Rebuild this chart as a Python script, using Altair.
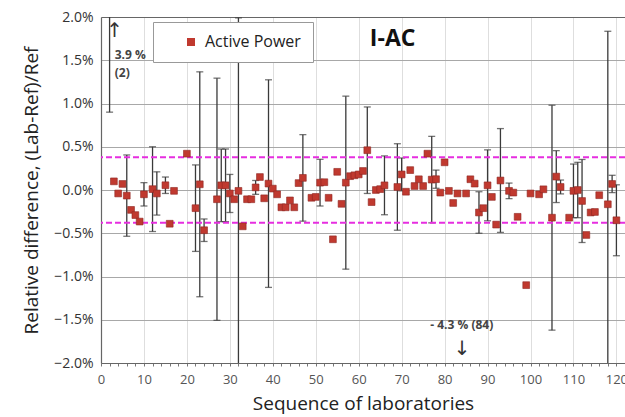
import altair as alt
import pandas as pd

# ---- data ----
labs = [2, 3, 4, 5, 6, 7, 8, 9, 10, 12, 13, 15, 16, 17, 20, 22, 23, 24, 27, 28,
        29, 30, 31, 32, 33, 34, 35, 36, 37, 38, 39, 40, 41, 42, 43, 44, 45, 46, 47, 49,
        50, 51, 52, 53, 54, 55, 56, 57, 58, 59, 60, 61, 62, 63, 64, 65, 66, 69, 70, 71,
        72, 73, 74, 75, 76, 77, 78, 79, 80, 81, 82, 83, 84, 85, 86, 87, 88, 89, 90, 91,
        92, 93, 95, 96, 97, 99, 100, 102, 103, 105, 106, 107, 109, 110, 111, 112, 113,
        114, 115, 116, 118, 119, 120]
values = [3.9, 0.10, -0.04, 0.07, -0.065, -0.23, -0.29, -0.365, -0.05, 0.01, -0.04, 0.055,
          -0.39, -0.01, 0.42, -0.21, 0.066, -0.465, -0.107, 0.054,
          0.054, -0.04, -0.107, -0.01, -0.42, -0.107, -0.107, 0.03, 0.15, -0.096, 0.074,
          0.016, -0.05, -0.20, -0.20, -0.12, -0.20, 0.08, 0.14, -0.09,
          -0.08, 0.085, 0.09, -0.09, -0.57, 0.21, -0.16, 0.085, 0.16, 0.17, 0.18, 0.22,
          0.46, -0.14, 0.0, 0.01, 0.054, 0.035, 0.18, -0.02,
          0.23, 0.046, 0.124, 0.046, 0.42, 0.12, 0.125, -0.03, 0.32, -0.01, -0.15, -0.04,
          -4.3, -0.04, 0.124, 0.074, -0.26, -0.21, 0.054, -0.08,
          -0.40, 0.11, -0.01, -0.03, -0.31, -1.10, -0.04, -0.05, 0.008, -0.32, 0.155,
          0.035, -0.32, -0.01, 0.0, -0.127, -0.52,
          -0.26, -0.254, -0.06, -0.165, 0.07, -0.35]

err_labs = [2, 6, 10, 12, 13, 15, 22, 23, 24, 27, 28, 29, 30, 32, 36, 39, 47, 51, 57, 62,
            66, 69, 70, 77, 78, 88, 90, 93, 95, 105, 106, 107, 110, 111, 112, 118, 119, 120]
err_vals = [3.0, 0.47, 0.135, 0.49, 0.25, 0.095, 0.5, 1.3, 0.13, 1.4, 0.42, 0.42, 0.22, 2.0,
            0.08, 1.2, 0.5, 0.27, 1.0, 0.5,
            0.34, 0.5, 0.19, 0.5, 0.105, 0.24, 0.41, 0.6, 0.09, 1.3, 0.3, 0.08, 0.31, 0.32,
            0.48, 2.0, 0.1, 0.41]

limit = 0.38
series_name = "Active Power"
y_ticks = [-2.0, -1.5, -1.0, -0.5, 0.0, 0.5, 1.0, 1.5, 2.0]
x_ticks = list(range(0, 123, 2))

pts = pd.DataFrame({"x": labs, "y": values, "series": series_name})
val_of = dict(zip(labs, values))
err = pd.DataFrame({
    "x": err_labs,
    "y": [val_of[l] - e for l, e in zip(err_labs, err_vals)],
    "hi": [val_of[l] + e for l, e in zip(err_labs, err_vals)],
})
limits = pd.DataFrame({"y": [limit, -limit]})

font = "Open Sans"
xscale = alt.Scale(domain=[0, 122], nice=False, zero=False)
yscale = alt.Scale(domain=[-2, 2], nice=False)

xaxis = alt.Axis(
    values=x_ticks,
    labelExpr="datum.value % 10 === 0 ? datum.label : ''",
    labelOverlap=False, labelFlush=False,
    title="Sequence of laboratories",
    titleFont=font, titleFontSize=19, titleFontWeight="normal", titleColor="#222",
    titlePadding=8,
    labelFont=font, labelFontSize=13, labelColor="#555", labelPadding=7,
    tickSize=3, tickColor="#777", domainColor="#666", domainWidth=1.2,
    grid=True,
    gridColor={"condition": {"test": "datum.value % 10 === 0", "value": "#dedede"},
               "value": "transparent"},
)
yaxis = alt.Axis(
    values=y_ticks,
    labelExpr="format(datum.value, '.1f') + '%'",
    labelOverlap=False,
    title="Relative difference, (Lab-Ref)/Ref",
    titleFont=font, titleFontSize=19, titleFontWeight="normal", titleColor="#222",
    titlePadding=12,
    labelFont=font, labelFontSize=14, labelColor="#333", labelPadding=8,
    ticks=False, domainColor="#666", domainWidth=1.2,
    grid=True,
    gridColor={"condition": {"test": "datum.value === 2", "value": "#666"},
               "value": "#a8a8a8"},
    gridWidth=1.1,
)

X = alt.X("x:Q", scale=xscale, axis=xaxis)
Y = alt.Y("y:Q", scale=yscale, axis=yaxis)

bars = alt.Chart(err).mark_rule(color="#3a3a3a", strokeWidth=1.3, clip=True).encode(
    x=X, y=Y, y2="hi:Q")
cap_lo = alt.Chart(err).mark_tick(orient="horizontal", size=7, thickness=1.3,
                                  color="#3a3a3a", clip=True).encode(x=X, y=Y)
cap_hi = alt.Chart(err).mark_tick(orient="horizontal", size=7, thickness=1.3,
                                  color="#3a3a3a", clip=True).encode(
    x=X, y=alt.Y("hi:Q", scale=yscale, axis=yaxis))

lim = alt.Chart(limits).mark_rule(color="#E62EE0", strokeWidth=2,
                                  strokeDash=[6, 3]).encode(y=Y)

points = alt.Chart(pts).mark_square(size=46, opacity=1, stroke="#8E2622",
                                    strokeWidth=0.6, clip=True).encode(
    x=X, y=Y,
    color=alt.Color("series:N", scale=alt.Scale(range=["#C0392F"]),
                    legend=alt.Legend(title=None, orient="none", legendX=52, legendY=5,
                                      symbolType="square", symbolSize=64,
                                      symbolStrokeWidth=0,
                                      labelFont=font, labelFontSize=16,
                                      labelColor="#222", labelOffset=6,
                                      padding=12, symbolOffset=18,
                                      fillColor="white", strokeColor="#999")),
)

title_df = pd.DataFrame({"x": [67.9], "y": [1.74], "t": ["I-AC"]})
title_txt = alt.Chart(title_df).mark_text(font=font, fontSize=23, fontWeight="bold",
                                          color="#111").encode(x=X, y=Y, text="t:N")

note_df = pd.DataFrame({"x": [3.2, 3.2], "y": [1.56, 1.35], "t": ["3.9 %", "(2)"]})
note_txt = alt.Chart(note_df).mark_text(font=font, fontSize=12, fontWeight="bold",
                                        color="#444", align="left").encode(
    x=X, y=Y, text="t:N")

note2_df = pd.DataFrame({"x": [84.0], "y": [-1.56], "t": ["- 4.3 % (84)"]})
note2_txt = alt.Chart(note2_df).mark_text(font=font, fontSize=12, fontWeight="bold",
                                          color="#444").encode(x=X, y=Y, text="t:N")

arrow_df = pd.DataFrame({"x": [3.2, 84.1], "y": [1.84, -1.84], "t": ["↑", "↓"]})
arrow_txt = alt.Chart(arrow_df).mark_text(font="DejaVu Sans", fontSize=20,
                                          color="#333").encode(x=X, y=Y, text="t:N")

chart = alt.layer(bars, cap_lo, cap_hi, lim, points, title_txt, note_txt, note2_txt,
                  arrow_txt).properties(
    width=524, height=346,
    autosize=alt.AutoSizeParams(type="none"),
    padding={"left": 101, "top": 17, "right": 0, "bottom": 54},
).configure_view(stroke=None).configure(background="white")

chart.save("out.html", embed_options={"renderer": "svg", "actions": False})
